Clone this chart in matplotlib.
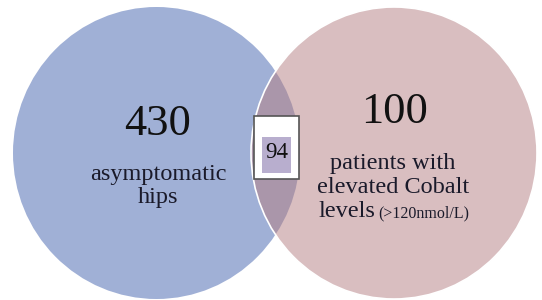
import matplotlib.pyplot as plt
from matplotlib.patches import Ellipse, Rectangle

# Venn diagram: asymptomatic hips vs patients with elevated cobalt
counts = [430, 94, 100]
left_lines = ["asymptomatic", "hips"]
right_lines = ["patients with", "elevated Cobalt"]
right_last = "levels"
right_small = "(>120nmol/L)"

blue = "#a0b0d6"
pink = "#d9bec0"
overlap = "#aa96aa"
box_fill = "#b8aece"

fig = plt.figure(figsize=(5.42, 3.0), dpi=100)
ax = fig.add_axes([0, 0, 1, 1])
ax.set_xlim(0, 542)
ax.set_ylim(300, 0)
ax.axis("off")

serif = "Liberation Serif"
txt = "#1a1a2a"

# circles (pixel space)
left = Ellipse((156.5, 153), 287, 292, facecolor=blue, edgecolor="none", zorder=1)
right = Ellipse((394, 153), 286, 292, facecolor=pink, edgecolor="none", zorder=2)
ax.add_patch(left)
ax.add_patch(right)

# overlapping lens
lens = Ellipse((156.5, 153), 287, 292, facecolor=overlap, edgecolor="none", zorder=3)
ax.add_patch(lens)
lens.set_clip_path(right)

# white outline of the right circle
ax.add_patch(Ellipse((394, 153), 286, 292, facecolor="none", edgecolor="white",
                     lw=1.2, zorder=4))

# box with the overlap count
ax.add_patch(Rectangle((254, 116), 45, 63, facecolor="white", edgecolor="#555555",
                       lw=1.2, zorder=5))
ax.add_patch(Rectangle((262, 137), 29, 36, facecolor=box_fill, edgecolor="none", zorder=6))
ax.text(276.5, 158, str(counts[1]), ha="center", va="baseline", fontsize=16.5,
        family=serif, color="#111111", zorder=7)

# left circle text
ax.text(157.5, 135, str(counts[0]), ha="center", va="baseline", fontsize=32,
        family=serif, color="#111111", zorder=7)
ax.text(158, 180, left_lines[0], ha="center", va="baseline", fontsize=17.5,
        family=serif, color=txt, zorder=7)
ax.text(158, 203, left_lines[1], ha="center", va="baseline", fontsize=17.5,
        family=serif, color=txt, zorder=7)

# right circle text
ax.text(395, 123, str(counts[2]), ha="center", va="baseline", fontsize=32,
        family=serif, color="#111111", zorder=7)
ax.text(393, 169, right_lines[0], ha="center", va="baseline", fontsize=17.5,
        family=serif, color=txt, zorder=7)
ax.text(393, 193, right_lines[1], ha="center", va="baseline", fontsize=17.5,
        family=serif, color=txt, zorder=7)
ax.text(319, 217, right_last, ha="left", va="baseline", fontsize=17.5,
        family=serif, color=txt, zorder=7)
ax.text(469, 217, right_small, ha="right", va="baseline", fontsize=11.5,
        family=serif, color=txt, zorder=7)

fig.savefig("out.png", dpi=100)
